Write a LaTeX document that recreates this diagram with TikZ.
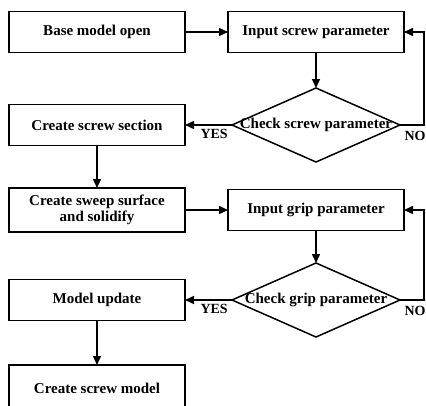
\documentclass[tikz,border=0pt]{standalone}
\usepackage{fontspec}
\setmainfont{Liberation Serif}
\usetikzlibrary{shapes.geometric,arrows.meta}

\begin{document}
\begin{tikzpicture}[x=1pt,y=-1pt,line width=1.5pt,
  box/.style={draw, minimum width=176pt, minimum height=41pt, outer sep=0pt, inner sep=2pt, align=center, font=\fontsize{15}{16}\selectfont\bfseries},
  decision/.style={draw, diamond, minimum width=168pt, minimum height=74pt, inner sep=0pt, outer sep=0pt},
  dtext/.style={font=\fontsize{15}{16}\selectfont\bfseries, inner sep=0pt},
  answer/.style={font=\fontsize{14}{15}\selectfont\bfseries, inner sep=0pt},
  flow/.style={-{Triangle[length=9pt,width=8pt]}}]
\useasboundingbox (0,0) rectangle (426,405);

% left column
\node[box] (open) at (97,32) {Base model open};
\node[box] (sect) at (97,125) {Create screw section};
\node[box, minimum height=44pt] (sweep) at (97,210) {Create sweep surface\\and solidify};
\node[box] (upd) at (97,300) {Model update};
\node[box, minimum height=46pt] (final) at (97,388) {Create screw model};

% right column
\node[box] (inscrew) at (316,32) {Input screw parameter};
\node[decision] (chkscrew) at (316,125) {};
\node[dtext] (tscrew) at (chkscrew) {Check screw parameter};
\node[box] (ingrip) at (316,210) {Input grip parameter};
\node[decision] (chkgrip) at (316,300) {};
\node[dtext] (tgrip) at (chkgrip) {Check grip parameter};

% connectors
\draw[flow] (open) -- (inscrew);
\draw[flow] (inscrew) -- (chkscrew);
\draw[flow] (chkscrew.west) -- node[answer, below=3pt, pos=0.38] {YES} (sect.east);
\draw[flow] (chkscrew.east) -- ++(24,0) |- (inscrew.east);
\node[answer] (noscrew) at (415,136) {NO};
\draw[flow] (sect) -- (sweep);
\draw[flow] (sweep) -- (ingrip);
\draw[flow] (ingrip) -- (chkgrip);
\draw[flow] (chkgrip.west) -- node[answer, below=3pt, pos=0.38] {YES} (upd.east);
\draw[flow] (chkgrip.east) -- ++(24,0) |- (ingrip.east);
\node[answer] (nogrip) at (415,311) {NO};
\draw[flow] (upd) -- (final);
\end{tikzpicture}
\end{document}
